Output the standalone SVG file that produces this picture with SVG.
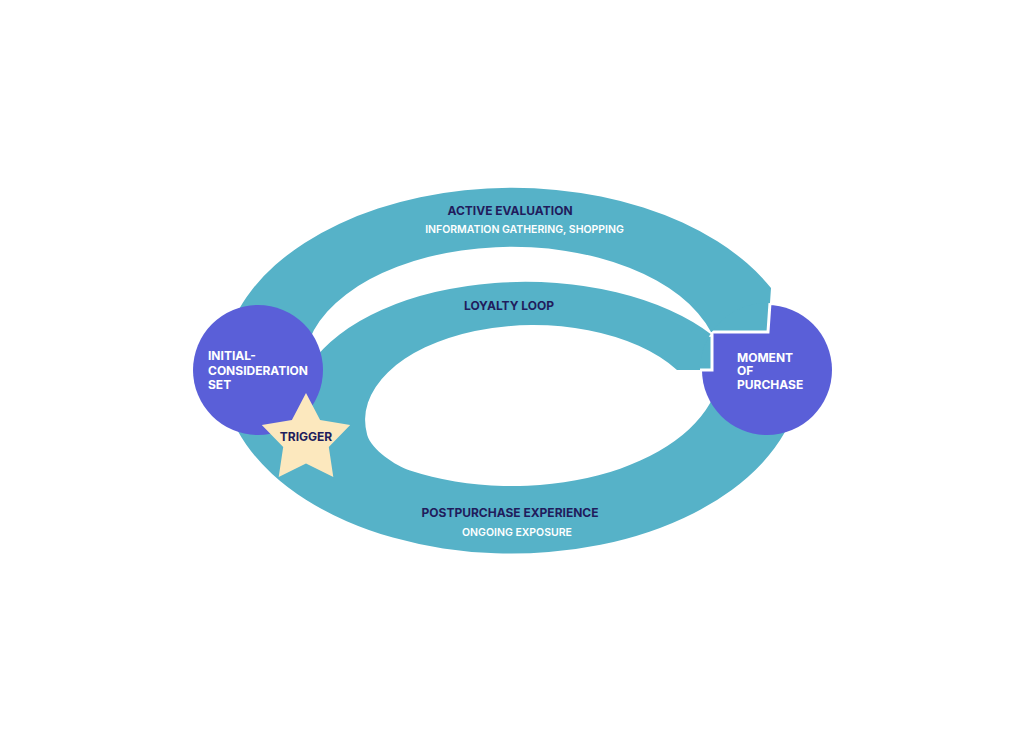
<svg xmlns="http://www.w3.org/2000/svg" width="1024" height="742" viewBox="0 0 1024 742">
  <defs>
    <style>
      .band{fill:#56B2C8}
      .band-edge{fill:#56B2C8;stroke:#FFFFFF;stroke-width:3;stroke-linejoin:miter}
      .node{fill:#5A5FD8}
      .star{fill:#FCE8BE}
      .t{font-family:Inter,"Liberation Sans",sans-serif;font-weight:700}
      .dark{fill:#211C5C}
      .light{fill:#FFFFFF}
      .h{font-size:12px}
      .s{font-size:10.5px;font-weight:600}
      .n{font-size:12px}
    </style>
    <clipPath id="rc">
      <circle cx="767" cy="370" r="67"/>
    </clipPath>
  </defs>
  <rect width="1024" height="742" fill="#FFFFFF"/>

  <g id="connectors">
    <path id="active-evaluation-band" class="band" d="M 225,345 A 290 182.5 0 0 1 771,288 L 768,332 L 711,332 A 208 120 0 0 0 306,350 Z"/>
    <path id="loyalty-postpurchase-band" class="band" d="M 712,335 A 230 128 0 0 0 310,365 L 222,380 A 290 182.5 0 0 0 798,400 L 716,390 A 208 120 0 0 1 410,470.6 C 395.7,466 371.3,449.4 367.2,435 A 168.6 95 0 0 1 677,370 L 712,370 Z"/>
  </g>

  <g id="moment-of-purchase">
    <circle class="node" cx="767" cy="370" r="65"/>
    <g clip-path="url(#rc)">
      <path class="band-edge" d="M 225,345 A 290 182.5 0 0 1 771,288 L 768,332 L 711,332 A 208 120 0 0 0 306,350 Z"/>
      <path class="band-edge" d="M 712,335 L 712,370 L 690,370 L 690,336 Z"/>
    </g>
    <text class="t light n" x="737" y="361.5">MOMENT</text>
    <text class="t light n" x="737" y="375">OF</text>
    <text class="t light n" x="737" y="388.5">PURCHASE</text>
  </g>

  <g id="initial-consideration-set">
    <circle class="node" cx="258" cy="370" r="65"/>
    <text class="t light n" x="208" y="360">INITIAL-</text>
    <text class="t light n" x="208" y="374.5">CONSIDERATION</text>
    <text class="t light n" x="208" y="388.5">SET</text>
  </g>

  <g id="trigger">
    <polygon class="star" points="306,393 320.1,420.1 350.2,425.1 328.8,446.9 333.3,477.1 306,463.5 278.7,477.1 283.2,446.9 261.8,425.1 291.9,420.1"/>
    <text class="t dark n" x="306" y="440.5" text-anchor="middle">TRIGGER</text>
  </g>

  <g id="band-labels">
    <text class="t dark h" x="510" y="214.5" text-anchor="middle">ACTIVE EVALUATION</text>
    <text class="t light s" x="524.5" y="233" text-anchor="middle">INFORMATION GATHERING, SHOPPING</text>
    <text class="t dark h" x="509" y="309.5" text-anchor="middle">LOYALTY LOOP</text>
    <text class="t dark h" x="510" y="516.5" text-anchor="middle">POSTPURCHASE EXPERIENCE</text>
    <text class="t light s" x="517" y="535.5" text-anchor="middle">ONGOING EXPOSURE</text>
  </g>
</svg>
